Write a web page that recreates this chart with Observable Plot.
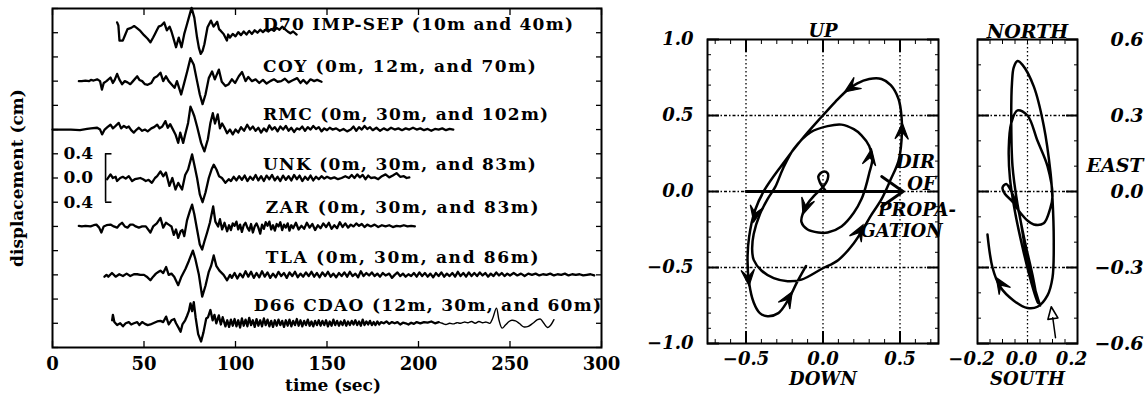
<!DOCTYPE html>
<html><head><meta charset="utf-8">
<script src="https://cdn.jsdelivr.net/npm/d3@7"></script>
<script src="https://cdn.jsdelivr.net/npm/@observablehq/plot@0.6"></script>
<style>
body{margin:0;background:#fff;}
#wrap{position:relative;width:1145px;height:402px;overflow:hidden;background:#fff}
#wrap svg{position:absolute;top:0;overflow:visible;background:transparent}
</style></head><body><div id="wrap"></div>
<script>
// ---------- Left panel: displacement seismograms ----------
const stations = ["D70 IMP-SEP (10m and 40m)", "COY (0m, 12m, and 70m)", "RMC (0m, 30m, and 102m)",
  "UNK (0m, 30m, and 83m)", "ZAR (0m, 30m, and 83m)", "TLA (0m, 30m, and 86m)", "D66 CDAO (12m, 30m, and 60m)"];
const offsets = [2.4, 1.6, 0.8, 0, -0.8, -1.6, -2.4];
const timeTicks = [0, 50, 100, 150, 200, 250, 300];
const scaleBarLabels = ["0.4", "0.0", "0.4"];
const scaleBarValues = [0.4, 0, -0.4];

const d70 = [[35.3,0.17],[36,0.12],[36.6,-0.13],[38.4,-0.13],[39.5,-0.05],[41,0.06],[43,0.08],[44.6,0.11],[46,0.08],[48,0.03],[50,-0.04],[52,-0.1],[53.5,-0.16],[55,-0.08],[56,-0.02],[57,0.04],[58,0.1],[59.5,0.12],[61,0.17],[62.5,0.04],[64,0.1],[65,0.02],[66,-0.08],[67.5,-0.24],[69,-0.08],[70.5,-0.24],[72,-0.02],[73.3,0.12],[74.5,0.25],[76,0.41],[77.5,0.25],[79,-0.08],[80,-0.25],[81,-0.35],[82,-0.3],[83,-0.19],[84.7,0.09],[86.6,0.2],[88,0.1],[89,0.14],[90,0.18],[91,0.06],[92,0.03],[93.5,-0.02],[95.3,-0.13],[96,-0.03],[97,-0.08],[98.5,-0.02],[100,-0.06],[101.5,0.01],[103,-0.04],[104.5,0.02],[106,-0.03],[107.5,0.03],[109,-0.02],[110.5,0.04],[112,0.0],[113.5,0.05],[115,0.01],[116.5,0.05],[118,0.02],[119.5,0.06],[121,0.03],[122.5,0.08],[124,0.05],[125.5,0.1],[127,0.06],[128.5,0.02],[130,-0.01],[131.5,0.02],[133.4,-0.03]];
const coy = [[14.4,0],[16,0.0],[18,0.01],[20,0.0],[21,0.02],[22.5,0.01],[24.4,0.03],[26,0.0],[27,-0.14],[28,-0.03],[29.5,0.0],[31.7,0.06],[33,-0.03],[34,0.02],[35.3,0.12],[36.5,0.03],[38,-0.05],[39.5,0.0],[41,-0.02],[42.5,-0.05],[44,0.0],[46.3,0.08],[47.5,0.02],[49,0.0],[50.5,-0.05],[52,-0.06],[54,-0.03],[55.5,0.05],[57.2,0.08],[59,0.14],[60.5,0.0],[62,0.08],[63.5,0.0],[65,-0.05],[66.7,-0.11],[68,0.0],[70.3,-0.22],[71.8,-0.05],[73.6,0.16],[75.4,0.38],[77.2,0.27],[79,0.0],[80.5,-0.22],[82,-0.38],[83.6,-0.22],[85.4,0.05],[87.2,0.16],[88.7,0.03],[90.9,0.19],[92.5,-0.01],[94.5,-0.08],[96.3,-0.05],[98,0.03],[99.8,-0.03],[101.8,0.08],[103.6,0.15],[105.5,0.0],[107,0.07],[109,0.0],[111,0.03],[113,-0.03],[115,0.02],[117,-0.04],[119,0.0],[121,0.03],[123,-0.01],[125,0.0],[127,0.04],[129,-0.02],[131,0.01],[133.7,0.05],[135.5,-0.03],[137,0.02],[139,-0.04],[141,0.03],[143,0.0],[144.6,0.02],[147,-0.01]];
const rmc = [[0,0],[5,0],[10,0.0],[15,-0.01],[18.9,0.01],[21,0.02],[24.4,0.03],[26,0.0],[27.1,-0.08],[28.5,0.0],[30,0.04],[31.7,0.08],[33,0.02],[34.5,0.06],[36.2,0.11],[37.5,0.02],[39,0.06],[40.5,0.03],[41.7,0.05],[43,-0.01],[44.4,-0.05],[46,0.0],[47.2,0.03],[49,-0.02],[50.5,0.0],[52,-0.03],[54,0.02],[55.5,0.04],[57.2,0.08],[58.5,0.02],[60,0.05],[61.7,0.14],[63,0.03],[64.3,0.09],[65.5,0.02],[67.2,-0.08],[68.7,-0.22],[69.8,-0.05],[71.4,-0.22],[72.5,-0.08],[74.1,0.11],[75.4,0.38],[76.5,0.3],[77.5,0.22],[79,0.05],[81.2,-0.22],[83,-0.36],[84.9,-0.16],[86.3,0.11],[87.6,0.27],[88.8,0.1],[90.3,0.25],[91.5,0.02],[92.7,0.1],[94,0.03],[95.4,-0.06],[97,0.0],[98.5,-0.08],[100,0.0],[101.5,-0.05],[103,0.04],[104.7,-0.02],[106.4,0.08],[108,0.0],[109.5,0.05],[111,-0.02],[112.5,0.03],[114,-0.05],[115.5,0.02],[117,-0.03],[118.5,0.07],[120,0.0],[121.5,0.04],[123,-0.03],[124.5,0.05],[126,0.0],[127.5,0.06],[129,-0.02],[130.5,0.03],[132,-0.04],[133.5,0.02],[135,0.0],[136.5,0.05],[138,-0.02],[139.5,0.04],[141,0.0],[142.5,0.06],[144,0.01],[145.5,0.04],[147,-0.03],[148.5,0.02],[150,-0.01],[151.5,0.03],[153,0.0],[155,0.02],[157,-0.02],[159,0.01],[161,-0.03],[163,0.0],[164.5,0.05],[166,-0.02],[167.5,0.04],[169,0.0],[170.5,0.06],[172,0.01],[173.5,0.04],[175,-0.01],[177,0.03],[179,-0.02],[181,0.02],[183,-0.01],[185,0.03],[187,0.0],[189,0.02],[191,-0.01],[193,0.02],[195,0.0],[197,0.03],[199,0.0],[201,0.02],[203,-0.01],[205,0.01],[207,-0.02],[209,0.01],[211,0.0],[213,0.02],[215,-0.01],[217,0.01],[219,0.0]];
const unk = [[29.9,-0.02],[31.7,0.06],[33,0.0],[34.5,0.02],[35.3,-0.05],[37,0.0],[38.4,0.02],[40,-0.01],[41.7,0.03],[43.5,-0.05],[45,-0.02],[46.5,-0.01],[48,0.0],[49.5,-0.02],[51,-0.05],[52.5,-0.03],[54.3,-0.08],[56,0.0],[57.2,0.03],[59,0.11],[60.5,0.03],[62,0.09],[63.9,-0.13],[65.5,0.0],[67.2,-0.19],[68.7,-0.08],[70.8,-0.19],[72.5,0.05],[74.1,0.14],[76.3,0.39],[77.5,0.22],[79,0.0],[80.5,-0.27],[82,-0.4],[83.6,-0.24],[85.4,0.0],[86.9,0.14],[88.1,0.22],[89.6,0.14],[91,0.03],[92.6,0.0],[94.5,-0.08],[96.3,-0.02],[97.5,-0.05],[99,0.02],[100.5,-0.04],[102,0.03],[103.5,-0.03],[105,0.04],[106.5,-0.05],[108,0.02],[109.5,-0.03],[111,0.05],[112.5,-0.04],[114,0.03],[115.5,-0.05],[117,0.04],[118.5,-0.02],[120,0.05],[121.5,-0.04],[123,0.02],[124.5,-0.05],[126,0.04],[127.5,-0.03],[129,0.03],[130.5,-0.04],[132,0.05],[133.5,-0.02],[135,0.04],[136.5,-0.05],[138,0.02],[139.5,-0.03],[141,0.04],[142.5,-0.04],[144,0.02],[145.5,-0.02],[147,0.03],[148.5,-0.01],[150,0.02],[152,-0.01],[154,0.01],[156,-0.02],[158,0.0],[160,0.03],[162,0.0],[163.5,0.05],[165,0.0],[166.5,0.06],[168,0.01],[169.5,0.05],[171,-0.02],[172.5,0.04],[174,0.0],[176,0.01],[178,-0.02],[180,0.03],[182,0.06],[184,0.01],[186,0.04],[188,0.08],[190,0.02],[192,0.03],[193.5,0.0],[195,0.01]];
const zar = [[14.4,0.01],[16,0.0],[18,0.01],[20.8,0.0],[22.5,0.02],[24,0.03],[25.5,-0.02],[26.7,-0.1],[28,0.0],[29.5,0.02],[31.7,0.03],[33.5,0.0],[35.3,-0.02],[36.7,0.03],[38,0.06],[39.5,0.0],[41,-0.02],[42.5,0.03],[44,0.03],[45.5,0.0],[47.2,-0.02],[49,0.0],[51,0.0],[53.5,-0.1],[55,0.0],[57,0.05],[59,0.14],[60.5,-0.02],[62,0.06],[63.5,0.03],[65,0.0],[66.3,-0.14],[67.5,-0.05],[68.7,-0.19],[70,-0.08],[71,-0.06],[72,-0.16],[73.5,0.1],[75,0.25],[76.3,0.36],[77.5,0.2],[79,-0.05],[80.5,-0.3],[81.8,-0.38],[83,-0.25],[84.5,-0.1],[86,0.06],[87.8,0.33],[89,0.08],[90.5,0.0],[91.5,0.12],[92.7,-0.05],[94,0.06],[95.4,-0.08],[96.5,0.02],[97.5,-0.06],[98.5,0.05],[99.5,0.01],[100.5,0.08],[101.5,-0.05],[102.5,0.03],[103.5,-0.09],[104.5,0.02],[105.5,0.06],[106.5,-0.02],[107.5,-0.07],[108.5,0.04],[109.5,-0.1],[110.5,0.0],[111.5,0.05],[112.5,-0.02],[113.5,-0.12],[114.5,0.03],[115.5,-0.04],[116.5,0.07],[117.5,0.01],[118.5,0.08],[119.5,-0.05],[120.5,0.02],[121.5,-0.07],[122.5,0.04],[123.5,0.0],[124.5,0.07],[125.5,-0.06],[126.5,0.03],[127.5,-0.02],[128.5,0.05],[129.5,-0.07],[130.5,0.02],[131.5,-0.03],[133,0.06],[134.5,-0.05],[136,0.01],[137.5,-0.04],[139,0.06],[140.5,-0.02],[142,0.04],[143.5,-0.06],[145,0.02],[146.5,-0.03],[148,0.05],[149.5,-0.01],[151,0.06],[152.5,-0.04],[154,0.02],[155.5,-0.03],[157,0.07],[158.5,-0.01],[160,0.05],[161.5,-0.02],[163,0.03],[164.5,0.0],[166,0.05],[167.5,0.01],[169,0.04],[170.5,-0.01],[172,0.03],[174,0.0],[176,0.03],[178,-0.01],[180,0.02],[182,0.0],[184,0.02],[186,-0.01],[188,0.01],[190,0.0],[192,0.02],[194,0.0],[196,0.01],[198,0.0]];
const tla = [[28.4,-0.03],[29.5,0.0],[30.5,-0.03],[32.5,0.03],[34.5,-0.03],[36.5,0.01],[38.5,-0.02],[40.5,0.02],[42.5,-0.02],[44.5,0.01],[46.3,0.01],[48,0.0],[50,0.0],[51.5,-0.03],[53.5,-0.09],[55,-0.03],[56.5,0.02],[58,0.05],[59,0.07],[60.5,0.03],[62.1,0.13],[63.5,0.0],[65,0.02],[66.5,-0.03],[68.7,-0.17],[70.3,-0.04],[72.7,0.1],[74.5,0.23],[76.7,0.4],[78,0.27],[80,0.0],[81.8,-0.36],[83.6,-0.18],[85.4,0.05],[86.7,0.15],[88.1,0.32],[89.5,0.15],[91.2,0.07],[93.5,0.0],[95.4,-0.09],[97,0.0],[98,-0.05],[99.5,0.03],[101,-0.06],[102.5,0.02],[104,-0.04],[105.5,0.06],[107,-0.03],[108.5,0.05],[110,-0.05],[111.5,0.03],[113,-0.04],[114.5,0.06],[116,-0.03],[117.5,0.04],[119,-0.05],[120.5,0.02],[122,-0.04],[123.5,0.05],[125,-0.02],[126.5,0.03],[128,-0.05],[129.5,0.04],[131,-0.02],[132.5,0.05],[134,-0.04],[135.5,0.02],[137,-0.03],[138.5,0.04],[140,-0.02],[141.5,0.05],[143,-0.03],[144.5,0.03],[146,-0.04],[147.5,0.04],[149,-0.02],[150.5,0.05],[152,-0.03],[153.5,0.02],[155,-0.04],[156.5,0.03],[158,-0.02],[159.5,0.04],[161,-0.03],[162.5,0.05],[164,-0.02],[165.5,0.02],[167,-0.04],[168.5,0.06],[170,-0.02],[171.5,0.03],[173,-0.01],[174.5,0.04],[176,-0.02],[177.5,0.02],[179,-0.03],[180.5,0.03],[182,-0.01],[184,0.02],[185.5,-0.05],[187,0.0],[188.5,0.04],[190,-0.02],[191.5,0.02],[193,-0.03],[194.5,0.01],[196,-0.02],[197.5,0.03],[199,-0.03],[200.5,0.04],[202,-0.02],[203.5,0.03],[205,-0.03],[206.5,0.02],[208,-0.04],[209.5,0.03],[211,-0.02],[212.5,0.04],[214,-0.03],[215.5,0.02],[217,-0.02],[218.5,0.03],[220,-0.03],[221.5,0.05],[223,-0.02],[224.5,0.03],[226,-0.03],[227.5,0.04],[229,-0.02],[230.5,0.03],[232,-0.02],[233.5,0.04],[235,-0.01],[236.5,0.03],[238,-0.03],[239.5,0.02],[241,-0.02],[242.5,0.04],[244,-0.01],[245.5,0.03],[247,-0.02],[248.5,0.02],[250,-0.01],[252,0.03],[254,-0.01],[256,0.02],[258,-0.02],[260,0.02],[262,0.0],[264,0.02],[266,-0.01],[268,0.01],[270,0.0],[272,0.02],[274,-0.01],[276,0.01],[278,0.0],[280,0.02],[282,-0.01],[284,0.01],[286,0.0],[288,0.01],[290,-0.01],[292,0.0],[294,0.01],[296,-0.01]];
const d66 = [[32.6,0.05],[33,0.14],[33.8,0.02],[35.3,-0.03],[37,0.0],[38.5,-0.05],[40,0.0],[41.7,0.02],[43,-0.02],[44.5,0.0],[46.3,0.02],[47.5,-0.03],[49,0.02],[50.5,-0.01],[52,-0.03],[53.5,-0.02],[55,0.0],[57.2,0.03],[59,0.04],[60.5,0.02],[62.1,0.11],[63.5,-0.02],[65,0.05],[66.5,0.07],[67.5,0.0],[69,-0.08],[70,-0.14],[71,-0.02],[72.5,0.05],[73.5,0.12],[74.5,0.2],[75.4,0.33],[76.3,0.2],[77.2,0.35],[78.2,0.1],[79.6,-0.18],[81.2,-0.3],[82.5,-0.15],[84,0.08],[85,0.1],[86.3,0.22],[87.5,0.05],[88.5,0.14],[89.5,0.0],[90.9,0.13],[92,-0.02],[93,0.1],[94.5,-0.05],[95.5,0.05],[96.5,-0.06],[97.5,0.06],[98.5,-0.04],[99.5,0.07],[100.5,-0.05],[101.5,0.05],[102.5,-0.07],[103.5,0.08],[104.5,-0.04],[105.5,0.06],[106.5,-0.05],[107.5,0.09],[108.5,-0.03],[109.5,0.05],[110.5,-0.06],[111.5,0.07],[112.5,-0.04],[113.5,0.05],[114.5,-0.05],[115.5,0.08],[116.5,-0.03],[117.5,0.06],[118.5,-0.05],[119.5,0.04],[120.5,-0.06],[121.5,0.05],[122.5,-0.04],[123.5,0.06],[124.5,-0.03],[125.5,0.04],[126.5,-0.06],[127.5,0.05],[128.5,-0.04],[129.5,0.06],[130.5,-0.05],[131.5,0.04],[132.5,-0.03],[133.5,0.07],[134.5,-0.04],[135.5,0.05],[136.5,-0.05],[137.5,0.04],[138.5,-0.03],[139.5,0.06],[140.5,-0.04],[141.5,0.03],[142.5,-0.05],[143.5,0.04],[144.5,-0.03],[145.5,0.05],[146.5,-0.04],[147.5,0.04],[148.5,-0.03],[149.5,0.05],[150.5,-0.05],[151.5,0.03],[152.5,-0.04],[153.5,0.06],[154.5,-0.03],[155.5,0.04],[156.5,-0.04],[157.5,0.03],[158.5,-0.03],[159.5,0.05],[160.5,-0.04],[161.5,0.03],[162.5,-0.03],[163.5,0.04],[164.5,-0.02],[165.5,0.05],[166.5,-0.03],[167.5,0.03],[168.5,-0.04],[169.5,0.06],[170.5,-0.03],[171.5,0.03],[172.5,-0.02],[173.5,0.04],[174.5,-0.03],[175.5,0.02],[176.5,-0.03],[177.5,0.03],[178.5,-0.02],[179.5,0.02],[181,0.0],[182.5,0.03],[184,-0.01],[185.5,0.02],[187,0.0],[188.5,0.02],[190,-0.02],[191.5,0.01],[193,0.0],[194.5,-0.02],[196,0.01],[197.5,-0.01],[199,0.02],[201,0.0],[203,0.02],[205,0.01],[207,0.03],[209,0.0],[211,0.02],[213,0.0],[215,-0.02],[217,0.0],[219,-0.01],[221,0.01],[223,0.0],[225,0.02],[227,0.01],[229,0.03],[231,0.0],[233,0.03],[235,0.01],[237,0.02],[239,0.0],[240.5,0.08],[242.6,0.25],[244,0.05],[245.7,-0.08],[247.5,-0.03],[249.5,0.03],[251,0.05],[253,0.04],[255,0.0],[257.5,-0.06],[260,-0.05],[262.5,0.0],[265,0.06],[266.7,0.07],[268.5,0.0],[270.5,-0.07],[272,-0.04],[274,0.06]];
const traces = [d70, coy, rmc, unk, zar, tla, d66];

// label placement (time of first letter, height in cm on the offset axis)
const labelStart = [115, 115, 115, 115, 116.5, 116.5, 110];
const labelHeight = [2.54, 1.84, 1.05, 0.23, -0.49, -1.31, -2.1];

// ---------- Middle panel: particle motion UP / DOWN ----------
const upTicksY = [1, 0.5, 0, -0.5, -1];
const upTicksX = [-0.5, 0, 0.5];
const upPath = [[0.02,0.0],[-0.02,0.06],[-0.03,0.1],[0.0,0.13],[0.03,0.12],[0.03,0.08],[0.0,0.03],[-0.06,-0.03],[-0.1,-0.08],[-0.13,-0.14],[-0.14,-0.2],[-0.1,-0.25],[-0.03,-0.27],[0.03,-0.27],[0.12,-0.23],[0.2,-0.14],[0.25,-0.05],[0.28,0.04],[0.3,0.12],[0.32,0.21],[0.3,0.3],[0.25,0.37],[0.2,0.41],[0.12,0.44],[0.03,0.43],[-0.08,0.39],[-0.19,0.28],[-0.26,0.15],[-0.31,0.03],[-0.36,-0.05],[-0.41,-0.15],[-0.45,-0.28],[-0.46,-0.38],[-0.45,-0.45],[-0.4,-0.52],[-0.32,-0.57],[-0.23,-0.59],[-0.14,-0.58],[-0.01,-0.51],[0.1,-0.45],[0.2,-0.34],[0.27,-0.23],[0.31,-0.16],[0.38,-0.05],[0.44,0.08],[0.49,0.2],[0.51,0.34],[0.51,0.49],[0.49,0.61],[0.44,0.7],[0.38,0.74],[0.3,0.74],[0.22,0.71],[0.15,0.66],[0.08,0.59],[-0.01,0.49],[-0.14,0.34],[-0.27,0.17],[-0.38,0.01],[-0.44,-0.12],[-0.48,-0.3],[-0.49,-0.45],[-0.48,-0.6],[-0.45,-0.73],[-0.41,-0.8],[-0.36,-0.82],[-0.29,-0.8],[-0.23,-0.72],[-0.17,-0.6],[-0.11,-0.49]];
const upArrows = [[0.22,0.71,0.14,0.655],[0.51,0.32,0.515,0.45],[0.29,0.12,0.315,0.28],[-0.43,-0.1,-0.45,-0.2],[-0.49,-0.5,-0.48,-0.62],[-0.27,-0.78,-0.2,-0.66],[0.18,-0.37,0.26,-0.22],[-0.1,-0.06,-0.13,-0.15]];
const propagation = [[-0.5, 0, 0.52, 0]];
const propagationText = [["DIR",0.6,0.19],["OF",0.64,0.05],["PROPA-",0.61,-0.125],["GATION",0.51,-0.26]];

// ---------- Right panel: particle motion NORTH / SOUTH ----------
const nsTicksY = [0.6, 0.3, 0, -0.3, -0.6];
const nsTicksX = [-0.2, 0, 0.2];
const nsPath = [[0.05,-0.45],[0.02,-0.35],[-0.01,-0.22],[-0.035,-0.08],[-0.06,-0.01],[-0.085,0.03],[-0.1,0.015],[-0.09,-0.01],[-0.06,-0.04],[-0.028,-0.085],[0.0,-0.115],[0.025,-0.13],[0.065,-0.125],[0.09,-0.07],[0.1,-0.02],[0.08,0.1],[0.04,0.2],[0.0,0.3],[-0.04,0.32],[-0.065,0.27],[-0.075,0.17],[-0.07,0.05],[-0.05,-0.08],[-0.02,-0.22],[0.01,-0.34],[0.04,-0.44],[0.02,-0.33],[-0.01,-0.2],[-0.04,-0.05],[-0.06,0.1],[-0.065,0.3],[-0.062,0.43],[-0.055,0.49],[-0.04,0.515],[-0.02,0.5],[0.025,0.415],[0.065,0.26],[0.092,0.075],[0.1,-0.03],[0.105,-0.2],[0.1,-0.34],[0.08,-0.41],[0.04,-0.455],[0.0,-0.46],[-0.056,-0.43],[-0.11,-0.375],[-0.14,-0.3],[-0.16,-0.17]];
const nsArrows = [[-0.08,-0.41,-0.125,-0.34]];
const nsStart = [[0.112,-0.577,0.095,-0.455]];

// ---------- rendering ----------
const wrap = document.getElementById("wrap");
const SERIF = "DejaVu Serif";
const fmt1 = d3.format(".1f");
function place(svg, left) { svg.style.left = left + "px"; wrap.appendChild(svg); return svg; }
// arrowheads drawn at the tip of a vector; direction from the (tail -> tip) pair
const dartHead = {draw(c, l) { c.moveTo(-l * 0.42, 0); c.lineTo(0, -l); c.lineTo(l * 0.42, 0); c.lineTo(0, -l * 0.45); c.closePath(); }};
const openHead = {draw(c, l) { c.moveTo(-l * 0.42, 0); c.lineTo(0, -l); c.lineTo(l * 0.42, 0); c.closePath(); }};
const heads = (arr, kx, ky) => arr.map(([x1, y1, x2, y2]) => ({x: x2, y: y2, r: Math.atan2((x2 - x1) * kx, (y2 - y1) * ky) * 180 / Math.PI}));

const rows = traces.flatMap((tr, i) => tr.map(([t, v]) => ({s: i, t, y: v + offsets[i]})));
const yTickVals = d3.range(-7, 8).map(k => k * 0.4);
const bold = {fontFamily: SERIF, fontWeight: "bold"};

const p1 = Plot.plot({
  width: 620, height: 402, marginLeft: 52, marginRight: 19, marginTop: 8, marginBottom: 55,
  x: {domain: [0, 300]}, y: {domain: [-2.8, 2.8]},
  style: {fontFamily: SERIF, background: "transparent"},
  marks: [
    Plot.axisX(timeTicks, {anchor: "bottom", tickSize: -6, tickFormat: () => "", label: null, strokeWidth: 1.3}),
    Plot.axisX(timeTicks, {anchor: "top", tickSize: -6, tickFormat: () => "", label: null, strokeWidth: 1.3}),
    Plot.axisY(yTickVals, {anchor: "left", tickSize: -6, tickFormat: () => "", label: null, strokeWidth: 1.3}),
    Plot.axisY(yTickVals, {anchor: "right", tickSize: -6, tickFormat: () => "", label: null, strokeWidth: 1.3}),
    Plot.line(rows, {filter: d => !(d.s === 6 && d.t > 212), x: "t", y: "y", z: "s", stroke: "#000", strokeWidth: 2.3, strokeLinejoin: "round"}),
    Plot.line(rows, {filter: d => d.s === 6 && d.t >= 211, x: "t", y: "y", stroke: "#000", strokeWidth: 1.4, curve: "catmull-rom"}),
    Plot.ruleX([labelStart[3] - 86], {y1: scaleBarValues[2], y2: scaleBarValues[0], strokeWidth: 1.6}),
    Plot.ruleY([scaleBarValues[0], scaleBarValues[2]], {x1: labelStart[3] - 86, x2: labelStart[3] - 82.5, strokeWidth: 1.6}),
    Plot.text(scaleBarValues, {y: d => d, text: (d, i) => scaleBarLabels[i], frameAnchor: "left", dx: 11, textAnchor: "start", fontSize: 17, ...bold}),
    Plot.text(stations, {x: (d, i) => labelStart[i], y: (d, i) => labelHeight[i], text: d => d, textAnchor: "start", fontSize: 17, ...bold}),
    Plot.text(timeTicks, {x: d => d, text: d => String(d), frameAnchor: "bottom", dy: 22, fontSize: 18, ...bold}),
    Plot.text(["time (sec)"], {text: d => d, frameAnchor: "bottom", dy: 43, dx: 6, fontSize: 17, ...bold}),
    Plot.text(["displacement (cm)"], {text: d => d, frameAnchor: "left", textAnchor: "middle", dx: -35, rotate: -90, fontSize: 17, ...bold}),
    Plot.frame({strokeWidth: 2})
  ]
});
place(p1, 0);
d3.select(p1).selectAll("text")
  .filter(function() { return stations.includes(this.textContent); })
  .attr("textLength", function() { return this.textContent.length * 12.4; })
  .attr("lengthAdjust", "spacing");

const italic = {fontFamily: SERIF, fontWeight: "bold", fontStyle: "italic"};
const minorUpY = d3.range(-10, 11).map(k => k / 10);
const minorUpX = d3.range(-7, 8).map(k => k / 10);
const p2 = Plot.plot({
  width: 330, height: 402, marginLeft: 87, marginRight: 12, marginTop: 39, marginBottom: 59,
  x: {domain: [-0.75, 0.75]}, y: {domain: [-1, 1]},
  style: {fontFamily: SERIF, background: "transparent"},
  marks: [
    Plot.ruleX(upTicksX, {strokeDasharray: "1.5,2.5", strokeWidth: 1.3}),
    Plot.ruleY([0.5, 0, -0.5], {strokeDasharray: "3,2,1.5,2", strokeWidth: 1.3}),
    Plot.axisY(minorUpY, {anchor: "left", tickSize: -4, tickFormat: () => "", label: null}),
    Plot.axisY(minorUpY, {anchor: "right", tickSize: -4, tickFormat: () => "", label: null}),
    Plot.axisX(minorUpX, {anchor: "bottom", tickSize: -4, tickFormat: () => "", label: null}),
    Plot.axisX(minorUpX, {anchor: "top", tickSize: -4, tickFormat: () => "", label: null}),
    Plot.axisY(upTicksY, {anchor: "left", tickSize: -12, tickFormat: () => "", label: null, strokeWidth: 2}),
    Plot.axisY(upTicksY, {anchor: "right", tickSize: -12, tickFormat: () => "", label: null, strokeWidth: 2}),
    Plot.axisX(upTicksX, {anchor: "bottom", tickSize: -12, tickFormat: () => "", label: null, strokeWidth: 2}),
    Plot.axisX(upTicksX, {anchor: "top", tickSize: -12, tickFormat: () => "", label: null, strokeWidth: 2}),
    Plot.arrow(propagation, {x1: d => d[0], y1: d => d[1], x2: d => d[2], y2: d => d[3], strokeWidth: 2.8, headLength: 14, headAngle: 70}),
    Plot.line(upPath, {x: d => d[0], y: d => d[1], curve: "catmull-rom", strokeWidth: 2.5, stroke: "#000"}),
    Plot.vector(heads(upArrows, 154, 152), {x: "x", y: "y", rotate: "r", length: 16, anchor: "end", shape: dartHead, stroke: "#000", fill: "#000", strokeWidth: 1.2, strokeLinejoin: "miter"}),
    Plot.text(upTicksY, {y: d => d, text: d => fmt1(d), frameAnchor: "left", dx: -14, textAnchor: "end", fontSize: 18, ...italic}),
    Plot.text(upTicksX, {x: d => d, text: d => fmt1(d), frameAnchor: "bottom", dy: 21, fontSize: 18, ...italic}),
    Plot.text(["UP"], {text: d => d, frameAnchor: "top", dy: -15, fontSize: 18, ...italic}),
    Plot.text(["DOWN"], {text: d => d, frameAnchor: "bottom", dy: 41, fontSize: 18, ...italic}),
    Plot.text(propagationText, {x: d => d[1], y: d => d[2], text: d => d[0], fontSize: 18, ...italic}),
    Plot.frame({strokeWidth: 2})
  ]
});
place(p2, 620);

const minorNsY = d3.range(-6, 7).map(k => k / 10);
const minorNsX = d3.range(-4, 5).map(k => k / 20);
const p3 = Plot.plot({
  width: 195, height: 402, marginLeft: 27, marginRight: 68, marginTop: 39, marginBottom: 59,
  x: {domain: [-0.2, 0.2]}, y: {domain: [-0.6, 0.6]},
  style: {fontFamily: SERIF, background: "transparent"},
  marks: [
    Plot.ruleX([0], {strokeDasharray: "1.5,2.5", strokeWidth: 1.3}),
    Plot.ruleY([0.3, 0, -0.3], {strokeDasharray: "3,2,1.5,2", strokeWidth: 1.3}),
    Plot.axisY(minorNsY, {anchor: "left", tickSize: -4, tickFormat: () => "", label: null}),
    Plot.axisY(minorNsY, {anchor: "right", tickSize: -4, tickFormat: () => "", label: null}),
    Plot.axisX(minorNsX, {anchor: "bottom", tickSize: -4, tickFormat: () => "", label: null}),
    Plot.axisX(minorNsX, {anchor: "top", tickSize: -4, tickFormat: () => "", label: null}),
    Plot.axisY(nsTicksY, {anchor: "left", tickSize: -12, tickFormat: () => "", label: null, strokeWidth: 2}),
    Plot.axisY(nsTicksY, {anchor: "right", tickSize: -12, tickFormat: () => "", label: null, strokeWidth: 2}),
    Plot.line(nsPath, {x: d => d[0], y: d => d[1], curve: "catmull-rom", strokeWidth: 2.5, stroke: "#000"}),
    Plot.vector(heads(nsArrows, 250, 253), {x: "x", y: "y", rotate: "r", length: 16, anchor: "end", shape: dartHead, stroke: "#000", fill: "#000", strokeWidth: 1.2, strokeLinejoin: "miter"}),
    Plot.arrow(nsStart, {x1: d => d[0], y1: d => d[1], x2: d => d[2], y2: d => d[3], strokeWidth: 1.5, headLength: 0, insetEnd: 11}),
    Plot.vector(heads(nsStart, 250, 253), {x: "x", y: "y", rotate: "r", length: 12, anchor: "end", shape: openHead, stroke: "#000", fill: "none", strokeWidth: 1.6}),
    Plot.text(nsTicksY, {y: d => d, text: d => fmt1(d), frameAnchor: "right", dx: 66, textAnchor: "end", fontSize: 19, ...italic}),
    Plot.text(nsTicksX, {x: d => d, text: d => fmt1(d), frameAnchor: "bottom", dy: 21, dx: -6, fontSize: 18, ...italic}),
    Plot.text(["NORTH"], {text: d => d, frameAnchor: "top", dy: -15, fontSize: 19, ...italic}),
    Plot.text(["SOUTH"], {text: d => d, frameAnchor: "bottom", dy: 41, fontSize: 18, ...italic}),
    Plot.text(["EAST"], {text: d => d, y: 0.1, frameAnchor: "right", dx: 66, textAnchor: "end", fontSize: 19, ...italic}),
    Plot.frame({strokeWidth: 2})
  ]
});
place(p3, 950);
</script></body></html>
